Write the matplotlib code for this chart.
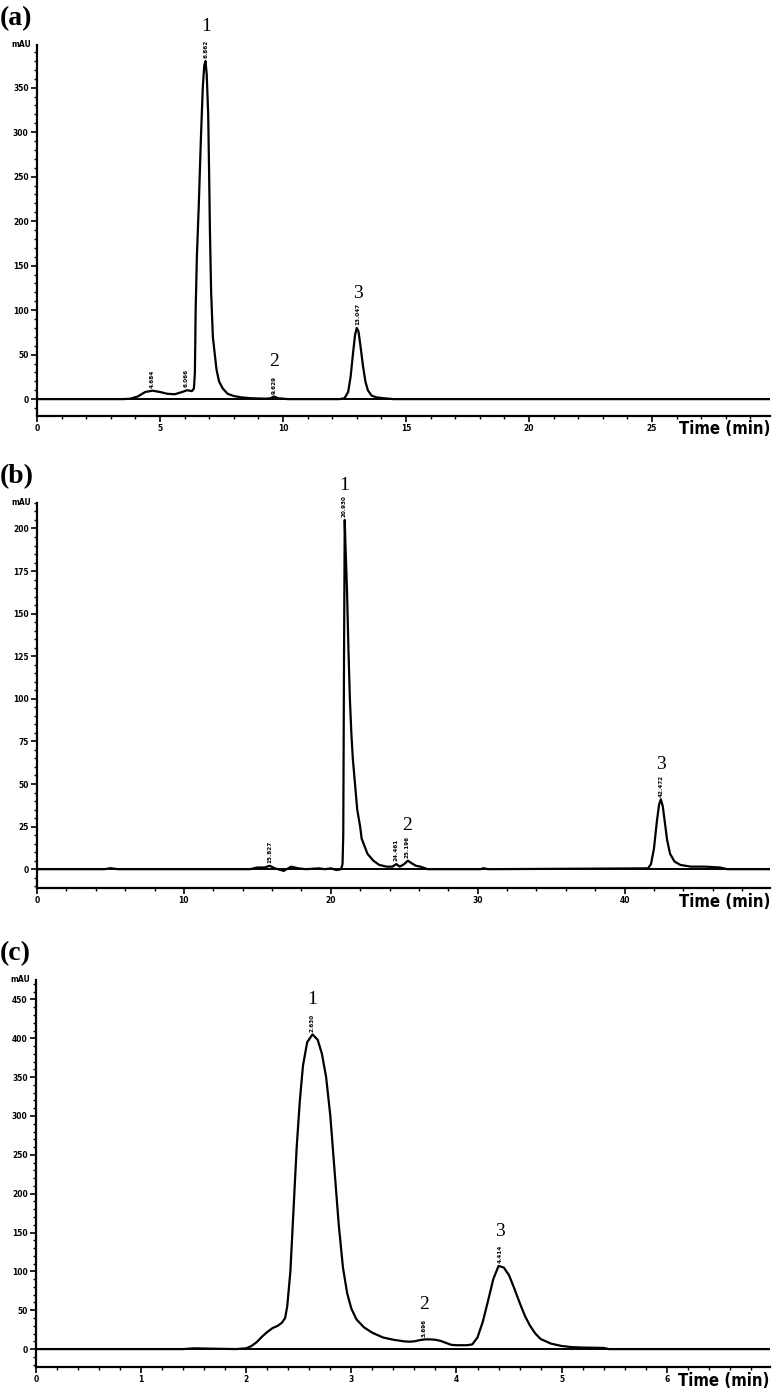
import matplotlib
matplotlib.use("Agg")
import matplotlib.pyplot as plt
from matplotlib.ticker import MultipleLocator

# ---- panel (a) ----
a_time = [0, 3.5, 3.8, 4.1, 4.4, 4.7, 5.0, 5.3, 5.6, 5.9, 6.1, 6.3, 6.38, 6.42,
          6.45, 6.5, 6.58, 6.66, 6.74, 6.8, 6.85, 6.9, 6.96, 7.0, 7.03, 7.08,
          7.15, 7.23, 7.3, 7.4, 7.55, 7.75, 8.0, 8.3, 8.7, 9.3, 9.5, 9.63, 9.8,
          10.2, 12.3, 12.5, 12.65, 12.75, 12.85, 12.93, 13.0, 13.07, 13.15,
          13.25, 13.35, 13.45, 13.6, 13.8, 14.1, 14.5, 29.8]
a_signal = [0, 0, 0.5, 3, 8, 9.5, 8, 6, 5.5, 8, 10, 9, 12, 30,
            100, 160, 220, 290, 350, 375, 380, 365, 320, 250, 190, 120,
            70, 50, 33, 20, 12, 6, 3.5, 2, 1, 0.5, 1, 3, 1,
            0, 0, 1, 8, 25, 52, 72, 80, 76, 60,
            38, 20, 10, 4, 2, 1, 0, 0]
a_rt = [4.684, 6.066, 6.862, 9.629, 13.047]
a_rt_height = [9.5, 10, 380, 3, 80]
a_peak_rt = [6.862, 9.629, 13.047]

# ---- panel (b) ----
b_time = [0, 4.6, 5.0, 5.5, 14.5, 15.0, 15.5, 15.83, 16.2, 16.8, 17.3, 17.8, 18.3,
          19.2, 19.6, 20.0, 20.4, 20.7, 20.8, 20.85, 20.9, 20.95, 21.0, 21.1,
          21.2, 21.3, 21.4, 21.5, 21.65, 21.8, 22.0, 22.1, 22.5, 22.9, 23.3,
          23.8, 24.2, 24.46, 24.7, 25.0, 25.25, 25.5, 25.8, 26.1, 26.6,
          30.2, 30.4, 30.7, 41.6, 41.8, 42.0, 42.2, 42.35, 42.47, 42.6, 42.75,
          42.9, 43.1, 43.4, 43.8, 44.5, 45.5, 46.5, 47.0, 50.0]
b_signal = [0, 0, 0.6, 0, 0, 1, 1, 2, 0.5, -1, 1.5, 0.5, 0,
            0.5, 0, 0.5, -0.5, 0, 3, 20, 120, 205, 190, 165,
            130, 100, 80, 65, 50, 35, 25, 18, 9, 5, 2.5,
            1.5, 1.5, 3, 1.5, 3, 5, 3.5, 2, 1.5, 0,
            0, 0.6, 0, 0.5, 3, 12, 28, 38, 41, 37, 27,
            17, 9, 4.5, 2.5, 1.5, 1.5, 1, 0, 0]
b_rt = [15.827, 20.930, 24.461, 25.196, 42.472]
b_rt_height = [2, 205, 3, 5, 41]
b_peak_rt = [20.930, 25.196, 42.472]

# ---- panel (c) ----
c_time = [0, 1.4, 1.5, 1.9, 2.0, 2.05, 2.1, 2.15, 2.2, 2.25, 2.3, 2.34, 2.37,
          2.39, 2.42, 2.45, 2.48, 2.51, 2.54, 2.58, 2.63, 2.68, 2.72, 2.76,
          2.8, 2.84, 2.88, 2.92, 2.96, 3.0, 3.05, 3.12, 3.2, 3.3, 3.4, 3.5,
          3.55, 3.6, 3.65, 3.7, 3.75, 3.8, 3.85, 3.9, 3.95, 4.0, 4.1, 4.15,
          4.2, 4.25, 4.3, 4.35, 4.4, 4.45, 4.5, 4.55, 4.6, 4.65, 4.7, 4.75,
          4.8, 4.9, 5.0, 5.1, 5.2, 5.4, 5.45, 7.0]
c_signal = [0, 0, 1, 0, 1, 4, 9, 16, 22, 27, 30, 34, 40,
            55, 100, 180, 260, 320, 365, 395, 405, 398, 380, 350,
            300, 230, 160, 105, 72, 52, 38, 28, 21, 15, 12, 10,
            9.5, 10, 11.5, 12.5, 12.5, 12, 10.5, 8, 5.5, 5, 5, 6,
            15, 35, 62, 90, 107, 105, 95, 78, 60, 43, 30, 20,
            13, 7, 4, 2.5, 2, 1.5, 0, 0]
c_rt = [2.630, 3.696, 4.414]
c_rt_height = [405, 12.5, 107]
c_peak_rt = [2.630, 3.696, 4.414]

fig = plt.figure(figsize=(7.74, 13.97), dpi=100)

narrow = ["Liberation Sans Narrow", "DejaVu Sans"]
serif = ["Liberation Serif", "DejaVu Serif"]


def draw_panel(rect, time, signal, xmax, ylim, xmaj, xmin, ymaj, ymin,
               rts, rt_h, peak_rt, tag):
    ax = fig.add_axes(rect)
    ax.plot(time, signal, color="black", lw=1.6, solid_joinstyle="round")
    ax.plot([0, xmax], [0, 0], color="black", lw=1.4)
    ax.set_xlim(0, xmax)
    ax.set_ylim(*ylim)
    for s in ["top", "right"]:
        ax.spines[s].set_visible(False)
    for s in ["left", "bottom"]:
        ax.spines[s].set_linewidth(1.6)
    ax.xaxis.set_major_locator(MultipleLocator(xmaj))
    ax.xaxis.set_minor_locator(MultipleLocator(xmin))
    ax.yaxis.set_major_locator(MultipleLocator(ymaj))
    ax.yaxis.set_minor_locator(MultipleLocator(ymin))
    ax.tick_params(which="major", length=4, width=1.2, pad=2)
    ax.tick_params(which="minor", length=2.5, width=1.0)
    for lab in ax.get_xticklabels() + ax.get_yticklabels():
        lab.set_fontfamily(narrow)
        lab.set_fontweight("bold")
        lab.set_fontsize(6)
        lab.set_fontstretch("condensed")
    ax.text(-0.008, 1.0, "mAU", transform=ax.transAxes, ha="right", va="center",
            family=narrow, weight="bold", size=6, stretch="condensed")
    # retention time labels, rotated, just above each apex
    for rt, h in zip(rts, rt_h):
        ax.annotate(f"{rt:.3f}", xy=(rt, h), xytext=(0, 2), textcoords="offset points",
                    rotation=90, ha="center", va="bottom",
                    family=narrow, weight="bold", size=4.5, stretch="condensed")
    # peak numbers above the retention labels
    for i, rt in enumerate(peak_rt):
        h = rt_h[rts.index(rt)]
        ax.annotate(str(i + 1), xy=(rt, h), xytext=(0, 19), textcoords="offset points",
                    ha="center", va="bottom", family=serif, size=14)
    ax.text(1.0, -0.012, "Time (min)", transform=ax.transAxes, ha="right", va="top",
            family=narrow, weight="bold", size=12, stretch="condensed")
    fig.text(0.0, rect[1] + rect[3] + 0.01, tag, ha="left", va="bottom",
             family=serif, weight="bold", size=20)
    return ax


draw_panel([0.0478, 0.7022, 0.947, 0.2656], a_time, a_signal, 29.8, (-19, 398),
           5, 1, 50, 10, a_rt, a_rt_height, a_peak_rt, "(a)")
draw_panel([0.0478, 0.3644, 0.947, 0.2756], b_time, b_signal, 49.9, (-11, 215),
           10, 2, 25, 5, b_rt, b_rt_height, b_peak_rt, "(b)")
draw_panel([0.0465, 0.0215, 0.948, 0.277], c_time, c_signal, 6.98, (-23, 475),
           1, 0.2, 50, 10, c_rt, c_rt_height, c_peak_rt, "(c)")

fig.savefig("out.png", dpi=100)
